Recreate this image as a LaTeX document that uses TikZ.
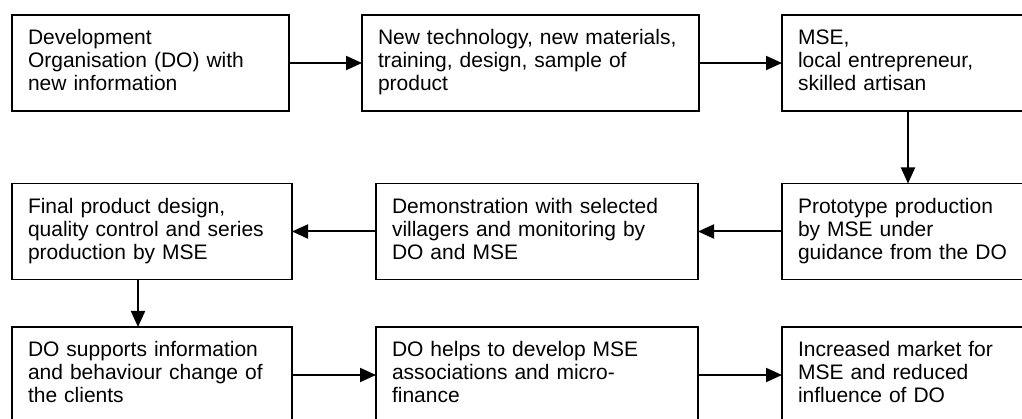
\documentclass[tikz,border=0pt]{standalone}
\usepackage{fontspec}
\setmainfont{Liberation Sans}
\usetikzlibrary{arrows.meta}
\begin{document}
\begin{tikzpicture}[x=1pt,y=-1pt,
  stagebox/.style={draw, line width=1.9pt, anchor=north west, outer sep=0pt,
    minimum height=96pt, inner xsep=16pt, inner ysep=0pt, align=left,
    text depth=52pt, font=\fontsize{21}{23}\selectfont},
  flow/.style={line width=2pt, -{Triangle[length=16pt,width=14pt]}}]
\useasboundingbox[fill=white] (0,0) rectangle (1022,419);
% row 1
\node[stagebox, text width=245pt] (A) at (12,15)
  {Development\\Organisation (DO) with\\new information};
\node[stagebox, text width=305pt] (B) at (362,15)
  {New technology, new materials,\\training, design, sample of\\product};
\node[stagebox, text width=220pt] (C) at (782,15)
  {MSE,\\local entrepreneur,\\skilled artisan};
% row 2
\node[stagebox, text width=248pt] (D) at (12,183.5)
  {Final product design,\\quality control and series\\production by MSE};
\node[stagebox, text width=290pt] (E) at (376,183.5)
  {Demonstration with selected\\villagers and monitoring by\\DO and MSE};
\node[stagebox, text width=220pt] (F) at (782,183.5)
  {Prototype production\\by MSE under\\guidance from the DO};
% row 3
\node[stagebox, text width=248pt] (G) at (12,327)
  {DO supports information\\and behaviour change of\\the clients};
\node[stagebox, text width=290pt] (H) at (376,327)
  {DO helps to develop MSE\\associations and micro-\\finance};
\node[stagebox, text width=220pt] (I) at (782,327)
  {Increased market for\\MSE and reduced\\influence of DO};
% connectors
\draw[flow] (A.east) -- (B.west);
\draw[flow] (B.east) -- (C.west);
\draw[flow] (C.south) -- (F.north);
\draw[flow] (F.west) -- (E.east);
\draw[flow] (E.west) -- (D.east);
\coordinate (Dd) at ([xshift=-14pt]D.south);
\draw[flow] (Dd) -- (Dd |- G.north);
\draw[flow] (G.east) -- (H.west);
\draw[flow] (H.east) -- (I.west);
\end{tikzpicture}
\end{document}
